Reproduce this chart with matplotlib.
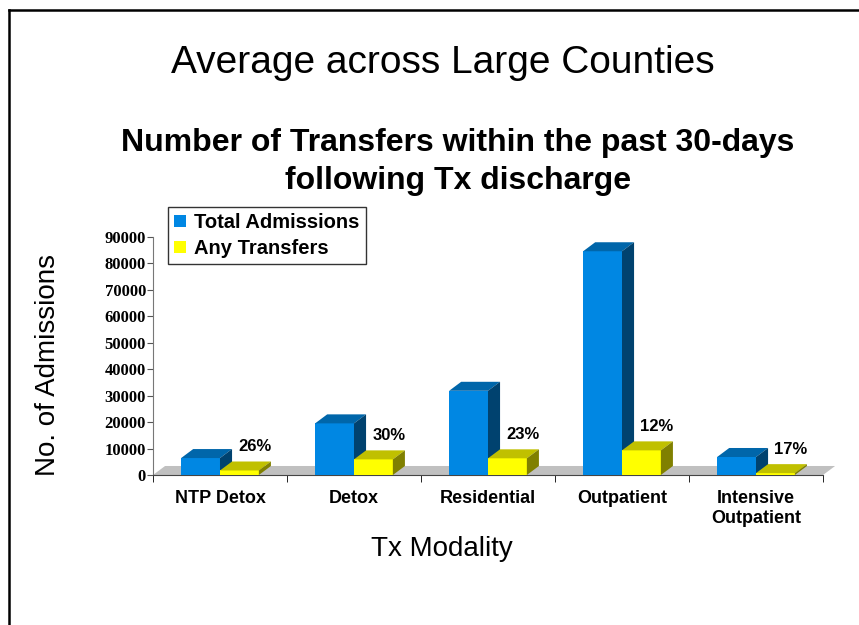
import matplotlib.pyplot as plt
from matplotlib.patches import Polygon
from matplotlib.lines import Line2D
import numpy as np

categories = ["NTP Detox", "Detox", "Residential", "Outpatient", "Intensive\nOutpatient"]
total_admissions = [6400, 19500, 31800, 84500, 6800]
any_transfers = [1700, 5900, 6300, 9300, 700]
pct_labels = ["26%", "30%", "23%", "12%", "17%"]

# 3-D look: depth offset in data units
DX = 0.09
DY = 3400
W = 0.29

blue = ("#0087e3", "#0066aa", "#00426f")
yellow = ("#ffff00", "#c0c000", "#808000")


def bar3d(ax, x, h, colors):
    x0, x1 = x - W / 2, x + W / 2
    front, top, side = colors
    ax.add_patch(Polygon([(x0, 0), (x1, 0), (x1, h), (x0, h)], closed=True,
                         facecolor=front, edgecolor="none", zorder=3))
    ax.add_patch(Polygon([(x0, h), (x1, h), (x1 + DX, h + DY), (x0 + DX, h + DY)],
                         closed=True, facecolor=top, edgecolor="none", zorder=3))
    ax.add_patch(Polygon([(x1, 0), (x1 + DX, DY), (x1 + DX, h + DY), (x1, h)],
                         closed=True, facecolor=side, edgecolor="none", zorder=3))


fig = plt.figure(figsize=(8.59, 6.25), dpi=100)
ax = fig.add_axes([0.1781, 0.24, 0.78, 0.3813])

n = len(categories)
x = np.arange(n)

# floor
ax.add_patch(Polygon([(-0.5, 0), (n - 0.5, 0), (n - 0.5 + DX, DY), (-0.5 + DX, DY)],
                     closed=True, facecolor="#c0c0c0", edgecolor="none",
                     zorder=2, clip_on=False))

for i in range(n):
    bar3d(ax, x[i] - W / 2, total_admissions[i], blue)
for i in range(n):
    bar3d(ax, x[i] + W / 2, any_transfers[i], yellow)
    ax.annotate(pct_labels[i], (x[i] + W / 2, any_transfers[i]),
                xytext=(11, 17), textcoords="offset points",
                ha="center", va="center", fontsize=12, fontweight="bold",
                family="Liberation Sans", zorder=5)

ax.set_xlim(-0.5, n - 0.5)
ax.set_ylim(0, 90000)
ax.set_yticks(np.arange(0, 90001, 10000))
ax.set_yticklabels([str(v) for v in range(0, 90001, 10000)],
                   fontsize=12, fontweight="bold", family="Liberation Serif")
ax.set_xticks(x)
ax.set_xticklabels(categories, fontsize=13, fontweight="bold", family="Liberation Sans")
ax.set_xticks(np.arange(-0.5, n, 1), minor=True)
ax.tick_params(axis="x", which="major", length=0, pad=11)
ax.tick_params(axis="x", which="minor", length=5, direction="out")
ax.tick_params(axis="y", length=4, direction="out", pad=1, color="#555555")

for s in ["top", "right"]:
    ax.spines[s].set_visible(False)
ax.spines["left"].set_color("#777777")
ax.spines["bottom"].set_color("#444444")

fig.text(48 / 859, 1 - 365 / 625, "No. of Admissions", rotation=90,
         ha="center", va="center", fontsize=20, family="Liberation Sans")
fig.text(442 / 859, 1 - 549 / 625, "Tx Modality",
         ha="center", va="center", fontsize=20, family="Liberation Sans")

handles = [plt.Rectangle((0, 0), 1, 1, facecolor=blue[0]),
           plt.Rectangle((0, 0), 1, 1, facecolor=yellow[0])]
leg = ax.legend(handles, ["Total Admissions", "Any Transfers"],
                loc="upper left", bbox_to_anchor=(168 / 859, 1 - 207 / 625),
                bbox_transform=fig.transFigure, borderaxespad=0,
                prop={"family": "Liberation Sans", "weight": "bold", "size": 14.5},
                frameon=True, fancybox=False, edgecolor="black",
                handlelength=0.6, handleheight=0.6, handletextpad=0.4,
                borderpad=0.3, labelspacing=0.35)
leg.get_frame().set_linewidth(1.0)

fig.text(0.516, 0.899, "Average across Large Counties", ha="center", va="center",
         fontsize=28, family="Liberation Sans")
fig.text(0.533, 0.741, "Number of Transfers within the past 30-days\nfollowing Tx discharge",
         ha="center", va="center", fontsize=23, fontweight="bold",
         family="Liberation Sans", linespacing=1.38)

# slide frame
fig.add_artist(Line2D([0.0105, 0.0105], [0, 0.984], color="black", lw=1.8))
fig.add_artist(Line2D([0.0105, 1.0], [0.984, 0.984], color="black", lw=1.8))

fig.savefig("out.png", dpi=100)
